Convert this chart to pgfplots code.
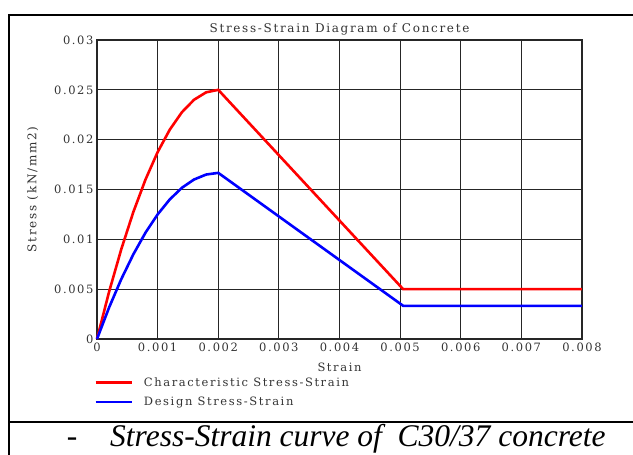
\documentclass[border=0pt]{standalone}
\usepackage{fontspec}
\setmainfont{DejaVu Serif}
\newfontfamily\tickfont{DejaVu Serif}[LetterSpace=14]
\newfontfamily\capfont{Liberation Serif}
\usepackage{pgfplots}
\pgfplotsset{compat=1.18}

\begin{document}
\begin{tikzpicture}[x=1pt,y=1pt]
  \useasboundingbox (0,0) rectangle (633,455);
  % frame around figure and caption
  \draw[line width=1.6pt] (9,0) -- (9,440) -- (633,440);
  \draw[line width=1.6pt] (9,33) -- (633,33);
  \node[anchor=base, inner sep=0pt] at (72,8) {\capfont\fontsize{31.5}{33}\selectfont -};
  \node[anchor=base west, inner sep=0pt] at (110,8)
    {\capfont\itshape\fontsize{31.5}{33}\selectfont Stress-Strain curve of\ \ C30/37 concrete};

  \begin{axis}[
      at={(97pt,116pt)}, anchor=south west,
      scale only axis,
      width=485pt, height=299pt,
      xmin=0, xmax=0.008, ymin=0, ymax=0.03,
      scaled ticks=false,
      xtick={0,0.001,0.002,0.003,0.004,0.005,0.006,0.007,0.008},
      xticklabels={0,0.001,0.002,0.003,0.004,0.005,0.006,0.007,0.008},
      ytick={0,0.005,0.01,0.015,0.02,0.025,0.03},
      yticklabels={0,0.005,0.01,0.015,0.02,0.025,0.03},
      ticklabel style={font=\tickfont\fontsize{11.5}{13}\selectfont, text=black!80},
      major tick length=0pt,
      grid=major,
      grid style={black!85, line width=1.1pt},
      axis line style={black!85, line width=1.1pt},
      title={Stress-Strain Diagram of Concrete},
      title style={font=\tickfont\fontsize{12}{14}\selectfont, text=black!80, yshift=-5pt},
      xlabel={Strain},
      xlabel style={font=\tickfont\fontsize{11.5}{13}\selectfont, text=black!80, yshift=-5pt},
      ylabel={Stress (kN/mm2)},
      ylabel style={font=\tickfont\fontsize{12}{14}\selectfont, text=black!80, yshift=9pt},
      legend style={at={(-0.012,-0.115)}, anchor=north west, draw=none, fill=none,
        font=\tickfont\fontsize{11.5}{13}\selectfont, text=black!80,
        row sep=5pt, cells={anchor=west}},
      legend image code/.code={\draw[#1] (0pt,0pt) -- (36pt,0pt); \path (45pt,0pt);},
      clip=false,
    ]
    \addplot[red, line width=2.6pt] coordinates {
      (0,0) (0.0002,0.00475) (0.0004,0.009) (0.0006,0.01275) (0.0008,0.016)
      (0.001,0.01875) (0.0012,0.021) (0.0014,0.02275) (0.0016,0.024)
      (0.0018,0.02475) (0.002,0.025) (0.00505,0.005) (0.008,0.005)
    };
    \addlegendentry{Characteristic Stress-Strain}
    \addplot[blue, line width=2.6pt] coordinates {
      (0,0) (0.0002,0.00317) (0.0004,0.006) (0.0006,0.0085) (0.0008,0.01067)
      (0.001,0.0125) (0.0012,0.014) (0.0014,0.01517) (0.0016,0.016)
      (0.0018,0.0165) (0.002,0.01667) (0.00505,0.00333) (0.008,0.00333)
    };
    \addlegendentry{Design Stress-Strain}
  \end{axis}
\end{tikzpicture}
\end{document}
